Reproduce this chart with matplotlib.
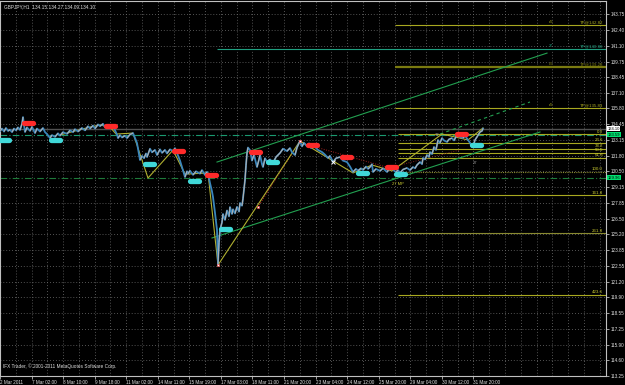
import numpy as np
import matplotlib
matplotlib.use("Agg")
import matplotlib.pyplot as plt
from matplotlib.collections import LineCollection

# price path (bar index, close)
bars = [0, 2, 4, 6, 8, 10, 12, 14, 16, 18, 20, 22, 23, 24, 25, 27, 30, 32, 35, 37,
        40, 43, 45, 47, 50, 52, 55, 58, 60, 63, 67, 70, 73, 75, 78, 82, 85, 88, 90, 93,
        95, 98, 100, 103, 105, 108, 110, 113, 115, 117, 118, 120, 122, 125, 127, 130, 133, 135, 137, 139,
        140, 142, 144, 146, 147, 150, 152, 155, 157, 160, 162, 165, 167, 170, 173, 175, 177, 180, 182, 184,
        185, 187, 188, 190, 193, 196, 200, 202, 205, 207, 208, 210, 212, 213, 215, 217, 218, 219, 220, 222,
        223, 225, 227, 229, 230, 232, 233, 235, 237, 239, 240, 242, 243, 244, 245, 246, 247, 248, 250, 252,
        254, 256, 257, 259, 260, 262, 263, 265, 267, 270, 273, 276, 280, 283, 287, 290, 292, 295, 297, 300,
        302, 304, 307, 309, 311, 313, 315, 318, 322, 325, 328, 330, 333, 336, 340, 343, 347, 350, 353, 356,
        358, 361, 363, 366, 368, 370, 372, 373, 376, 380, 383, 387, 389, 392, 394, 396, 398, 400, 403, 407,
        410, 413, 415, 417, 420, 422, 423, 425, 427, 429, 430, 432, 434, 436, 438, 440, 442, 444, 447, 449,
        452, 454, 457, 460, 463, 465, 468, 470, 472, 474, 475, 477, 480, 482, 483]
close = [133.89, 134.10, 133.85, 134.15, 133.90, 134.00, 133.80, 134.10, 133.95, 134.20,
         133.98, 134.50, 135.07, 134.40, 133.81, 134.20, 133.90, 134.25, 133.72, 134.10,
         133.85, 134.15, 133.80, 133.64, 133.30, 133.55, 133.40, 133.70, 133.50, 133.80,
         133.65, 133.95, 133.80, 134.05, 133.85, 134.15, 133.95, 134.30, 134.10, 134.35,
         134.10, 134.45, 134.30, 134.50, 134.20, 134.40, 134.15, 134.30, 133.95, 133.60,
         133.30, 133.55, 133.35, 133.50, 133.30, 133.60, 133.72, 133.30, 132.88, 131.90,
         131.45, 131.80, 131.60, 132.00, 131.70, 132.40, 132.10, 132.30, 131.87, 132.35,
         132.05, 132.30, 132.00, 132.35, 132.20, 132.45, 132.04, 131.40, 130.86, 130.30,
         130.02, 130.50, 130.30, 130.55, 130.20, 130.50, 130.30, 130.60, 130.19, 130.45,
         130.30, 129.51, 128.80, 128.33, 127.00, 125.55, 122.60, 124.50, 125.55, 126.20,
         126.90, 126.40, 127.20, 126.70, 127.49, 126.90, 127.30, 126.95, 127.50, 127.10,
         127.83, 127.60, 128.20, 129.00, 129.77, 131.00, 132.04, 132.50, 132.29, 131.40,
         131.90, 131.20, 130.86, 131.50, 131.90, 131.10, 130.86, 131.60, 131.30, 131.50,
         131.20, 131.70, 132.04, 132.40, 132.20, 132.46, 132.10, 131.87, 132.50, 133.05,
         132.60, 132.90, 132.60, 132.85, 132.46, 132.70, 132.55, 132.30, 132.12, 131.90,
         131.62, 131.80, 131.28, 131.60, 131.70, 131.40, 131.28, 130.90, 130.44, 130.70,
         130.55, 130.75, 130.61, 130.90, 130.70, 130.86, 131.10, 130.44, 130.70, 130.53,
         130.75, 130.44, 130.70, 130.86, 130.55, 130.44, 130.60, 130.36, 130.65, 130.78,
         130.60, 130.86, 130.75, 131.03, 131.28, 131.10, 131.62, 131.50, 131.87, 131.70,
         132.12, 131.95, 132.55, 132.30, 133.14, 132.90, 133.30, 133.10, 132.97, 133.20,
         133.30, 133.10, 133.56, 133.39, 133.30, 133.50, 133.14, 132.90, 132.55, 132.85,
         133.14, 133.40, 133.81, 133.90, 134.10]

# zigzag swing points
zz_bars = [60, 90, 100, 110, 116, 133, 148, 173, 185, 208, 218, 300, 353, 372, 392, 442, 468, 483]
zz_price = [133.56, 134.23, 134.40, 134.23, 133.64, 133.72, 129.93, 132.29, 130.26, 130.36,
            122.60, 133.05, 130.36, 131.03, 130.53, 133.64, 133.14, 134.15]

# swing labels
red_bars = [28, 110, 178, 211, 255, 312, 346, 391, 461]
red_price = [134.57, 134.31, 132.21, 130.19, 132.12, 132.71, 131.70, 130.86, 133.64]
cyan_bars = [4, 55, 149, 194, 225, 272, 362, 400, 476]
cyan_price = [133.14, 133.14, 131.11, 129.68, 125.64, 131.28, 130.36, 130.27, 132.71]

# channel
chan_up_bars, chan_up_price = [217, 547], [131.28, 140.46]
chan_lo_bars, chan_lo_price = [212, 540], [124.88, 133.81]
chan_mid_bars, chan_mid_price = [440, 530], [133.64, 136.34]

# take profit lines (start bar, price, label)
tp_start = [395, 217, 395, 395]
tp_price = [142.82, 140.80, 139.28, 135.83]
tp_text = ["TP@142.82", "TP@140.80", "TP@139.28", "TP@135.83"]
tp_color = ["#a8a820", "#20a080", "#7a7a10", "#a8a820"]

# fibo
fib_start = 398
fib_zero, fib_hundred = 133.63, 130.44
fib_levels = [0.0, 23.6, 38.2, 50.0, 61.8, 100.0, 161.8, 261.8, 423.6]

last_price = 134.10
hl_green1, hl_green2 = 133.59, 129.96

yticks = [143.75, 142.40, 141.10, 139.75, 138.45, 137.10, 135.80, 134.45, 133.15, 131.80,
          130.50, 129.15, 127.85, 126.50, 125.20, 123.85, 122.55, 121.20, 119.90, 118.55,
          117.25, 115.90, 114.60, 113.25]
xlabels = ["2 Mar 2011", "7 Mar 02:00", "8 Mar 10:00", "9 Mar 18:00", "11 Mar 02:00",
           "14 Mar 11:00", "15 Mar 19:00", "17 Mar 03:00", "18 Mar 11:00", "21 Mar 20:00",
           "23 Mar 04:00", "24 Mar 12:00", "25 Mar 20:00", "29 Mar 04:00", "30 Mar 12:00",
           "31 Mar 20:00"]

plt.rcParams['font.family'] = ['Liberation Sans', 'DejaVu Sans']
fg = "#e0e0e0"

fig = plt.figure(figsize=(6.25, 3.85), dpi=100, facecolor="black")
ax = fig.add_axes([0, 9/385, 606/625, 375/385], facecolor="black")
ax.set_xlim(0, 606)
ax.set_ylim(113.25, 144.85)

# grid
step = 15.78
for k in range(1, 39):
    ax.axvline(k*step, color="#707070", lw=0.6, ls=(0, (1, 2.5)), zorder=0)
for v in yticks:
    ax.axhline(v, color="#707070", lw=0.6, ls=(0, (1, 2.5)), zorder=0)

# horizontal reference lines
ax.axhline(last_price, color="#505050", lw=1.0, zorder=1)
ax.axhline(hl_green1, color="#1a9a70", lw=0.8, ls=(0, (6, 2, 1, 2)), zorder=1)
ax.axhline(hl_green2, color="#1e7a3a", lw=0.8, ls=(0, (6, 2, 1, 2)), zorder=1)

for s, p, t, c in zip(tp_start, tp_price, tp_text, tp_color):
    lw = 1.6 if c == "#7a7a10" else 0.8
    ax.hlines(p, s, 606, color=c, lw=lw, zorder=1)
    ax.text(603, p + 0.08, t, color=c, fontsize=3.2, ha="right", va="bottom")
    ax.text(553, p + 0.12, "c5" if c != "#20a080" else "3*", color=c, fontsize=3.2,
            ha="right", va="bottom")

for lv in fib_levels:
    p = fib_zero - lv/100*(fib_zero - fib_hundred)
    c = "#8a8a30" if lv in (100.0, 261.8) else "#a8a820"
    ls = (0, (1, 1)) if lv == 100.0 else "-"
    ax.hlines(p, fib_start, 606, color=c, lw=0.8, ls=ls, zorder=1)
    ax.text(603, p + 0.05, f"{lv:.1f}", color="#c8c830", fontsize=3.2, ha="right", va="bottom")

# channel
ax.plot(chan_up_bars, chan_up_price, color="#22a050", lw=0.8, zorder=2)
ax.plot(chan_lo_bars, chan_lo_price, color="#22a050", lw=0.8, zorder=2)
ax.plot(chan_mid_bars, chan_mid_price, color="#22a050", lw=0.8, ls=(0, (3, 3)), zorder=2)

# red dotted projection lines
ax.plot([258, 300], [127.5, 133.05], color="#c02020", lw=0.7, ls=(0, (1, 1.5)), zorder=2)
ax.plot([305, 393], [132.80, 130.70], color="#a02020", lw=0.7, ls=(0, (1, 1.5)), zorder=2)
ax.plot([392, 460], [130.86, 132.30], color="#802020", lw=0.7, ls=(0, (1, 1.5)), zorder=2)

# zigzag
ax.plot(zz_bars, zz_price, color="#b0b030", lw=0.8, zorder=3)

# price line: blue body, grey on up moves
ax.plot(bars, close, color="#3a86bc", lw=1.3, zorder=4)
pts = np.column_stack([bars, close])
segs = np.stack([pts[:-1], pts[1:]], axis=1)
up = [s for s, a, b in zip(segs, close[:-1], close[1:]) if b > a]
ax.add_collection(LineCollection(up, colors="#b0b0b0", linewidths=0.8, zorder=4))

# swing labels
for b, p in zip(red_bars, red_price):
    ax.plot([b - 4.5, b + 4.5], [p, p], color="#ff2a2a", lw=3.8, solid_capstyle="round", zorder=5)
for b, p in zip(cyan_bars, cyan_price):
    ax.plot([b - 4.5, b + 4.5], [p, p], color="#40d8d8", lw=3.8, solid_capstyle="round", zorder=5)

ax.plot([218, 258, 300], [122.60, 127.5, 133.05], ls="none", marker="s", ms=1.6,
        mfc="white", mec="#ff4040", mew=0.4, zorder=6)
ax.plot([333], [131.28], ls="none", marker="x", ms=2.5, mec="white", mew=0.7, zorder=6)
ax.text(437, 133.35, "17", color="#a0a0a0", fontsize=3, ha="center", va="bottom")
ax.text(475, 131.0, "27", color="#a0a0a0", fontsize=3, ha="center", va="bottom")
ax.text(398, 129.3, "27 MP", color="#c8c830", fontsize=3, ha="center", va="bottom")

# axes styling
for sp in ax.spines.values():
    sp.set_color("#c0c0c0")
    sp.set_linewidth(0.8)
ax.yaxis.tick_right()
ax.set_yticks(yticks)
ax.set_yticklabels([f"{v:.2f}" for v in yticks])
ax.set_xticks([31.56*j for j in range(len(xlabels))])
ax.set_xticklabels(xlabels, ha="left")
ax.tick_params(axis="both", colors=fg, labelsize=3.3, length=2, width=0.5, pad=1)
ax.tick_params(axis="y", pad=1.5)

# price boxes on the axis
for p, t, fc in [(last_price, "134.10", "white"), (hl_green1, "133.59", "#00e070"),
                 (hl_green2, "129.96", "#00e070")]:
    ax.text(607.5, p, t, color="black", fontsize=3.0, ha="left", va="center",
            transform=ax.transData, clip_on=False,
            bbox=dict(boxstyle="square,pad=0.12", fc=fc, ec="none"))

ax.text(4, 144.35, "GBPJPY,H1  134.15 134.27 134.09 134.10", color=fg, fontsize=3.4,
        ha="left", va="center")
ax.text(3, 114.1, "IFX Trader, \u00a9 2001-2011 MetaQuotes Software Corp.", color=fg,
        fontsize=3.4, ha="left", va="center")

fig.savefig("out.png", dpi=100, facecolor="black")
